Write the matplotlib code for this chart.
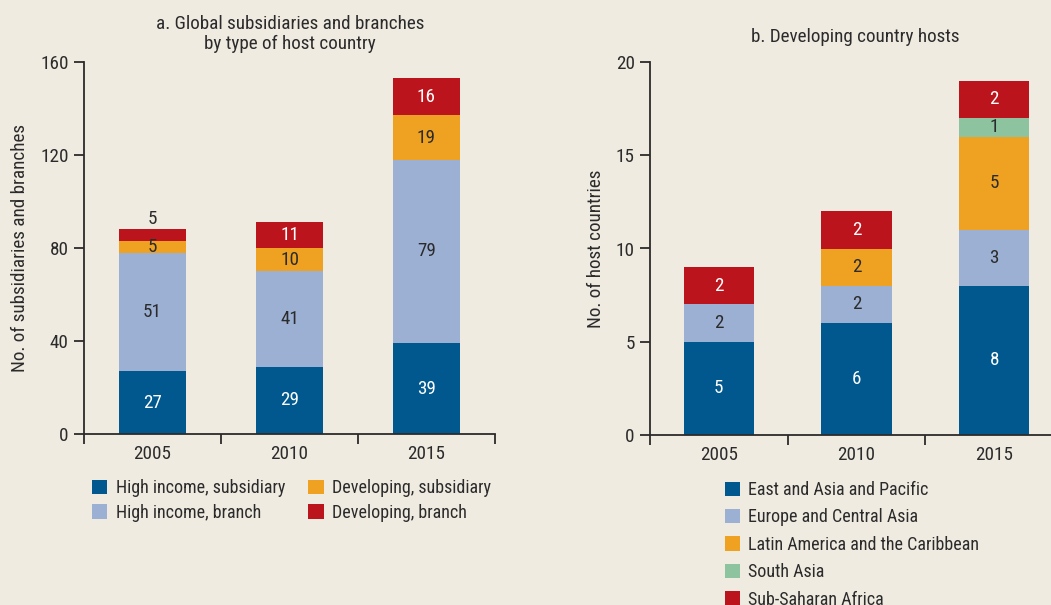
import matplotlib
matplotlib.use("Agg")
import matplotlib.pyplot as plt
from matplotlib.patches import Patch
from matplotlib import font_manager

names = {f.name for f in font_manager.fontManager.ttflist}
fam = [n for n in ["Liberation Sans Narrow", "Roboto Condensed", "Open Sans Condensed", "Liberation Sans"] if n in names] + ["DejaVu Sans"]
plt.rcParams['font.family'] = fam

# ---- data ----
years = ["2005", "2010", "2015"]
hi_sub = [27, 29, 39]
hi_branch = [51, 41, 79]
dev_sub = [5, 10, 19]
dev_branch = [5, 11, 16]

eap = [5, 6, 8]
eca = [2, 2, 3]
lac = [0, 2, 5]
sas = [0, 0, 1]
ssa = [2, 2, 2]

left_names = ["High income, subsidiary", "High income, branch", "Developing, subsidiary", "Developing, branch"]
right_names = ["East and Asia and Pacific", "Europe and Central Asia", "Latin America and the Caribbean", "South Asia", "Sub-Saharan Africa"]

C_DBLUE = "#00588e"
C_LBLUE = "#9bb0d3"
C_ORANGE = "#efa222"
C_RED = "#bc141c"
C_GREEN = "#8ec3a0"
BG = "#efebe1"
INK = "#2b2b2b"
FS = 13.8
LFS = 13

fig = plt.figure(figsize=(10.51, 6.05), dpi=100, facecolor=BG)

ax1 = fig.add_axes([84/1051, 1-434/605, 411/1051, (434-62)/605])
ax2 = fig.add_axes([650/1051, 1-435/605, 413/1051, (435-62)/605])

def style(ax, yticks, ymax):
    ax.set_facecolor(BG)
    ax.patch.set_alpha(0)
    for s in ["top", "right"]:
        ax.spines[s].set_visible(False)
    for s in ["left", "bottom"]:
        ax.spines[s].set_color(INK)
        ax.spines[s].set_linewidth(1.3)
    ax.set_xlim(-0.5, 2.5)
    ax.set_ylim(0, ymax)
    ax.set_yticks(yticks)
    ax.set_xticks(range(3))
    ax.set_xticklabels(years)
    ax.set_xticks([-0.5, 0.5, 1.5, 2.5], minor=True)
    ax.tick_params(axis="x", which="major", length=0, labelsize=FS, colors=INK, pad=8)
    ax.tick_params(axis="x", which="minor", length=7, width=1.3, color=INK, direction="out")
    ax.tick_params(axis="y", length=7, width=1.3, color=INK, labelsize=FS, labelcolor=INK, pad=4)

style(ax1, [0, 40, 80, 120, 160], 160)
style(ax2, [0, 5, 10, 15, 20], 20)

x = list(range(3))

# left panel
w1 = 0.49
b = [0, 0, 0]
for vals, c, tc in zip([hi_sub, hi_branch, dev_sub], [C_DBLUE, C_LBLUE, C_ORANGE], ["white", INK, INK]):
    ax1.bar(x, vals, w1, bottom=b, color=c, linewidth=0)
    for i, v in enumerate(vals):
        ax1.text(i, b[i] + v/2, str(v), ha="center", va="center", color=tc, fontsize=FS)
    b = [bb + v for bb, v in zip(b, vals)]
ax1.bar(x, dev_branch, w1, bottom=b, color=C_RED, linewidth=0)
for i, v in enumerate(dev_branch):
    if v < 8:
        ax1.text(i, b[i] + v + 0.8, str(v), ha="center", va="bottom", color=INK, fontsize=FS)
    else:
        ax1.text(i, b[i] + v/2, str(v), ha="center", va="center", color="white", fontsize=FS)

# right panel
bottom = [0, 0, 0]
for vals, c, tc in zip([eap, eca, lac, sas, ssa], [C_DBLUE, C_LBLUE, C_ORANGE, C_GREEN, C_RED],
                       ["white", INK, INK, INK, "white"]):
    ax2.bar(x, vals, 0.51, bottom=bottom, color=c, linewidth=0)
    for i, v in enumerate(vals):
        if v > 0:
            ax2.text(i, bottom[i] + v/2, str(v), ha="center", va="center", color=tc, fontsize=FS)
    bottom = [bb + v for bb, v in zip(bottom, vals)]

ax1.set_ylabel("No. of subsidiaries and branches", fontsize=FS, color=INK, labelpad=8)
ax2.set_ylabel("No. of host countries", fontsize=FS, color=INK, labelpad=8)

fig.text(290/1051, 1-34/605, "a. Global subsidiaries and branches\nby type of host country",
         ha="center", va="center", fontsize=FS, color=INK, linespacing=1.2)
fig.text(855/1051, 1-37/605, "b. Developing country hosts", ha="center", va="center", fontsize=FS, color=INK)

lh = [Patch(facecolor=c, edgecolor="none") for c in [C_DBLUE, C_LBLUE, C_ORANGE, C_RED]]
fig.legend(lh, left_names, ncol=2, loc="upper left", bbox_to_anchor=(83/1051, 1-470/605),
           frameon=False, fontsize=LFS, handlelength=0.85, handleheight=0.85, handletextpad=0.45,
           columnspacing=1.3, labelspacing=0.38, borderpad=0, labelcolor=INK)

rh = [Patch(facecolor=c, edgecolor="none") for c in [C_DBLUE, C_LBLUE, C_ORANGE, C_GREEN, C_RED]]
fig.legend(rh, right_names, ncol=1, loc="upper left", bbox_to_anchor=(716/1051, 1-472/605),
           frameon=False, fontsize=LFS, handlelength=0.85, handleheight=0.85, handletextpad=0.45,
           labelspacing=0.52, borderpad=0, labelcolor=INK)

fig.savefig("out.png", dpi=100, facecolor=BG)
